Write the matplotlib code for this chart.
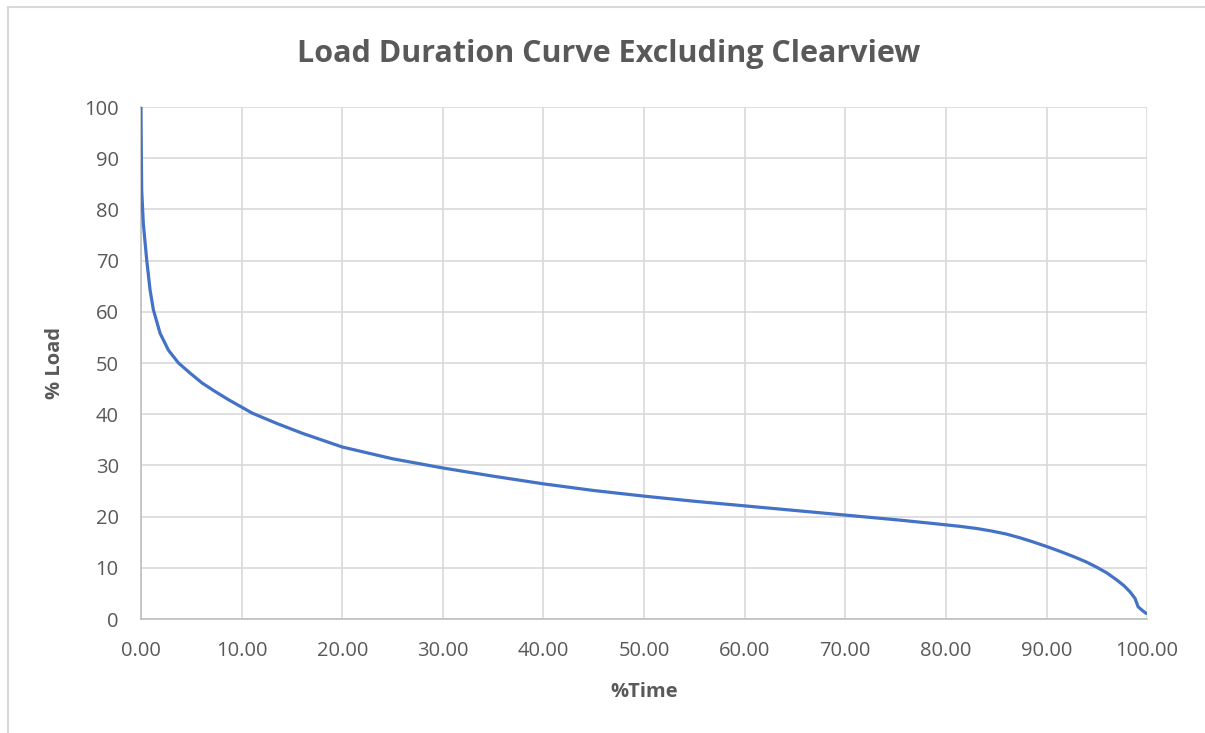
import matplotlib.pyplot as plt
from matplotlib.lines import Line2D

plt.switch_backend('agg')

# values
pct_time = [0.0, 0.03, 0.07, 0.23, 0.57, 0.9, 1.23, 1.9, 2.73, 3.73, 4.9, 6.07, 7.4,
            8.73, 11.07, 13.5, 16.0, 20.0, 25.0, 30.0, 35.0, 40.0, 45.0, 50.0, 55.0,
            60.0, 65.0, 70.0, 75.5, 79.0, 81.4, 83.0, 84.5, 86.0, 87.3, 88.6, 90.1,
            91.5, 92.8, 94.0, 95.0, 96.0, 97.0, 97.7, 98.3, 98.8, 99.1, 99.5, 99.9]
pct_load = [100.0, 92.0, 83.8, 77.3, 70.1, 64.3, 60.4, 55.8, 52.5, 50.0, 48.0, 46.1, 44.4,
            42.8, 40.2, 38.2, 36.3, 33.6, 31.3, 29.5, 27.9, 26.4, 25.1, 24.0, 23.0,
            22.1, 21.2, 20.3, 19.3, 18.6, 18.1, 17.7, 17.2, 16.6, 15.9, 15.1, 14.1,
            13.1, 12.1, 11.1, 10.1, 9.0, 7.6, 6.5, 5.3, 4.0, 2.4, 1.7, 1.1]

x_ticks = [0, 10, 20, 30, 40, 50, 60, 70, 80, 90, 100]
y_ticks = [0, 10, 20, 30, 40, 50, 60, 70, 80, 90, 100]

grey = '#595959'
plt.rcParams['font.family'] = ['Open Sans', 'DejaVu Sans']

fig = plt.figure(figsize=(12.05, 7.33), dpi=100)
ax = fig.add_axes([0.117, 0.1555, 0.835, 0.6985])

ax.plot(pct_time, pct_load, color='#4472C4', linewidth=2.3, solid_capstyle='round',
        solid_joinstyle='round', zorder=3)

ax.set_xlim(0, 100)
ax.set_ylim(0, 100)
ax.set_xticks(x_ticks)
ax.set_xticklabels(['%.2f' % v for v in x_ticks])
ax.set_yticks(y_ticks)
ax.grid(color='#d9d9d9', linewidth=1.2)
ax.set_axisbelow(True)
for s in ['top', 'right']:
    ax.spines[s].set_visible(False)
for s in ['left', 'bottom']:
    ax.spines[s].set_color('#bfbfbf')
    ax.spines[s].set_linewidth(1.2)
ax.tick_params(length=0, labelsize=14.5, labelcolor=grey)
ax.tick_params(axis='x', pad=16)
ax.tick_params(axis='y', pad=16)

ax.set_xlabel('%Time', fontsize=14.5, fontweight='bold', color=grey, labelpad=15)
ax.set_ylabel('% Load', fontsize=14.5, fontweight='bold', color=grey, labelpad=14)
fig.text(0.505, 0.926, 'Load Duration Curve Excluding Clearview', ha='center', va='center',
         fontsize=22, fontweight='bold', color=grey)

# chart frame (left and top edges visible)
fig.add_artist(Line2D([0.0066, 0.0066], [0, 0.99], transform=fig.transFigure, color='#d9d9d9', linewidth=1.5))
fig.add_artist(Line2D([0.0066, 1.0], [0.99, 0.99], transform=fig.transFigure, color='#d9d9d9', linewidth=1.5))

fig.savefig('out.png', dpi=100, facecolor='white')
